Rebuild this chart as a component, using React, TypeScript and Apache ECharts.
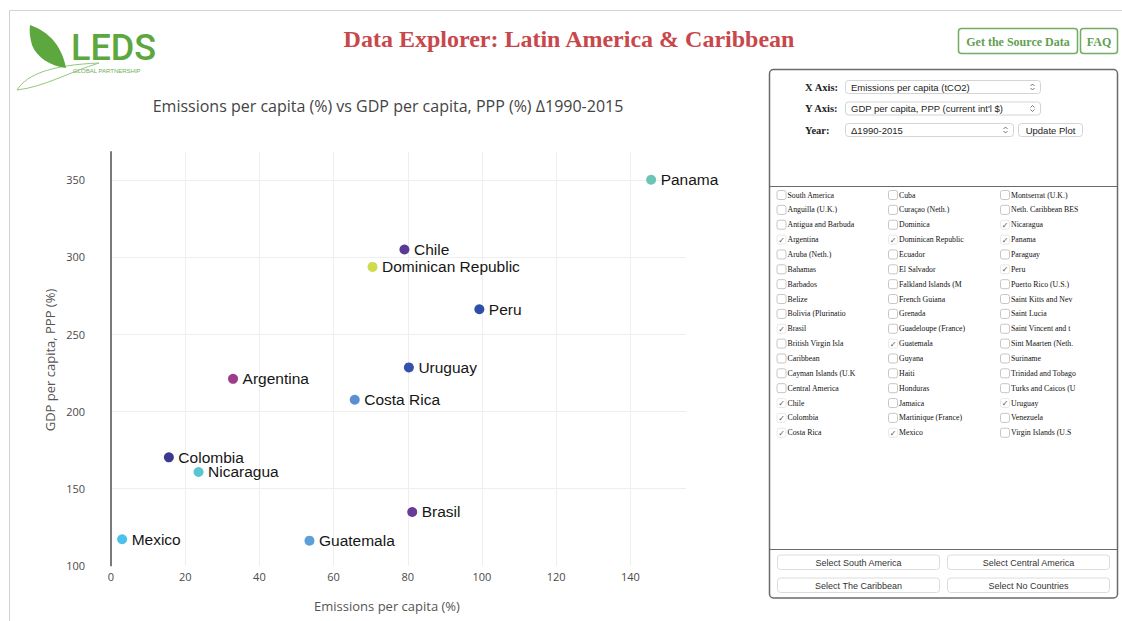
import React, { useEffect, useRef } from "react";
import * as echarts from "echarts";

// ---------- data ----------
const countries = ["Panama", "Chile", "Dominican Republic", "Peru", "Uruguay", "Argentina", "Costa Rica", "Colombia", "Nicaragua", "Brasil", "Mexico", "Guatemala"];
const emissionsChange = [145.6, 79.1, 70.5, 99.3, 80.3, 32.9, 65.7, 15.6, 23.6, 81.2, 3.0, 53.5];
const gdpChange = [350.0, 304.8, 293.5, 266.1, 228.4, 221.0, 207.4, 170.1, 160.6, 134.7, 117.0, 116.1];
const pointColors = ["#6cc4b6", "#5a3a96", "#cfdb4c", "#2f4ea8", "#3451ac", "#a03a8b", "#5a8fd3", "#3c3993", "#5cc6d0", "#6a3a97", "#4cc2ea", "#5c9fd9"];

const pageTitle = "Data Explorer: Latin America & Caribbean";
const chartTitle = "Emissions per capita (%) vs GDP per capita, PPP (%) \u03941990-2015";
const xAxisName = "Emissions per capita (%)";
const yAxisName = "GDP per capita, PPP (%)";

const col1 = ["South America", "Anguilla (U.K.)", "Antigua and Barbuda", "Argentina", "Aruba (Neth.)", "Bahamas", "Barbados", "Belize", "Bolivia (Plurinatio", "Brasil", "British Virgin Isla", "Caribbean", "Cayman Islands (U.K", "Central America", "Chile", "Colombia", "Costa Rica"];
const col2 = ["Cuba", "Cura\u00e7ao (Neth.)", "Dominica", "Dominican Republic", "Ecuador", "El Salvador", "Falkland Islands (M", "French Guiana", "Grenada", "Guadeloupe (France)", "Guatemala", "Guyana", "Haiti", "Honduras", "Jamaica", "Martinique (France)", "Mexico"];
const col3 = ["Montserrat (U.K.)", "Neth. Caribbean BES", "Nicaragua", "Panama", "Paraguay", "Peru", "Puerto Rico (U.S.)", "Saint Kitts and Nev", "Saint Lucia", "Saint Vincent and t", "Sint Maarten (Neth.", "Suriname", "Trinidad and Tobago", "Turks and Caicos (U", "Uruguay", "Venezuela", "Virgin Islands (U.S"];
const checkedList = ["Argentina", "Brasil", "Chile", "Colombia", "Costa Rica", "Dominican Republic", "Guatemala", "Mexico", "Nicaragua", "Panama", "Peru", "Uruguay"];

const selectRows = [
  { label: "X Axis:", value: "Emissions per capita (tCO2)" },
  { label: "Y Axis:", value: "GDP per capita, PPP (current int'l $)" },
  { label: "Year:", value: "\u03941990-2015" },
];
const bottomButtons = ["Select South America", "Select Central America", "Select The Caribbean", "Select No Countries"];

// ---------- shapes ----------
echarts.graphic.registerShape(
  "leafFilled",
  echarts.graphic.extendPath("M30 25 C 50 32, 62 47, 66 68 C 51 66, 37 58, 32 45 C 30 38, 29 31, 30 25 Z", {})
);
echarts.graphic.registerShape(
  "leafOutline",
  echarts.graphic.extendPath("M17 90 C 27 74, 52 65, 99 63 C 72 71, 44 87, 17 90 Z", {})
);

const SANS = "Liberation Sans";
const SERIF = "Liberation Serif";

function txt(x: number, y: number, text: string, opts: any = {}) {
  const { rotation, ...style } = opts;
  const el: any = {
    type: "text",
    x,
    y,
    silent: true,
    style: {
      text,
      fontFamily: SANS,
      fontSize: 12,
      fill: "#222",
      align: "left",
      verticalAlign: "middle",
      ...style,
    },
  };
  if (rotation !== undefined) el.rotation = rotation;
  return el;
}

function chevrons(cx: number, cy: number) {
  return [
    { type: "polyline", silent: true, shape: { points: [[cx - 2, cy - 1], [cx, cy - 3], [cx + 2, cy - 1]] }, style: { stroke: "#555", fill: "none", lineWidth: 0.8 } },
    { type: "polyline", silent: true, shape: { points: [[cx - 2, cy + 1], [cx, cy + 3], [cx + 2, cy + 1]] }, style: { stroke: "#555", fill: "none", lineWidth: 0.8 } },
  ];
}

function buildGraphics() {
  const g: any[] = [];
  // page frame
  g.push({ type: "rect", silent: true, shape: { x: 9.5, y: 10.5, width: 1300, height: 800 }, style: { fill: "none", stroke: "#d2d2d2", lineWidth: 1 } });
  // logo
  g.push({ type: "leafOutline", x: 0, y: 0, silent: true, style: { fill: "none", stroke: "#93c77f", lineWidth: 1 } });
  g.push({ type: "leafFilled", x: 0, y: 0, silent: true, style: { fill: "#5ca83f" } });
  g.push(txt(71, 48, "LEDS", { fontFamily: "Roboto", fontWeight: 500, fontSize: 36, fill: "#5ca83f" }));
  g.push(txt(73, 70.5, "GLOBAL PARTNERSHIP", { fontSize: 6, fill: "#6db055" }));
  // page title
  g.push(txt(569, 39, pageTitle, { fontFamily: SERIF, fontWeight: "bold", fontSize: 24, fill: "#c8474b", align: "center" }));
  // top-right buttons
  g.push({ type: "rect", silent: true, shape: { x: 958.5, y: 28.5, width: 119, height: 25, r: 3 }, style: { fill: "#fff", stroke: "#72ad62", lineWidth: 1.5 } });
  g.push(txt(1018, 41.5, "Get the Source Data", { fontFamily: SERIF, fontWeight: "bold", fontSize: 12, fill: "#5f9f52", align: "center" }));
  g.push({ type: "rect", silent: true, shape: { x: 1080.5, y: 28.5, width: 37, height: 25, r: 3 }, style: { fill: "#fff", stroke: "#72ad62", lineWidth: 1.5 } });
  g.push(txt(1099, 41.5, "FAQ", { fontFamily: SERIF, fontWeight: "bold", fontSize: 12, fill: "#5f9f52", align: "center" }));
  // chart title & axis names
  g.push(txt(388, 106, chartTitle, { fontFamily: "Open Sans", fontSize: 16, fill: "#444", align: "center" }));
  g.push(txt(387, 606, xAxisName, { fontFamily: "Open Sans", fontSize: 13, fill: "#555", align: "center" }));
  g.push(txt(50, 360, yAxisName, { fontFamily: "Open Sans", fontSize: 13, fill: "#555", align: "center", rotation: Math.PI / 2 }));

  // control panel
  g.push({ type: "rect", silent: true, shape: { x: 769.5, y: 69.5, width: 348, height: 528.5, r: 4 }, style: { fill: "#fff", stroke: "#6a6a6a", lineWidth: 1.5 } });
  g.push({ type: "line", silent: true, shape: { x1: 770, y1: 186.5, x2: 1117, y2: 186.5 }, style: { stroke: "#6a6a6a", lineWidth: 1.2 } });
  g.push({ type: "line", silent: true, shape: { x1: 770, y1: 549.5, x2: 1117, y2: 549.5 }, style: { stroke: "#6a6a6a", lineWidth: 1.2 } });

  const rowY = [87, 108.5, 130];
  selectRows.forEach((r, i) => {
    const y = rowY[i];
    g.push(txt(805, y, r.label, { fontFamily: SERIF, fontWeight: "bold", fontSize: 10.5, fill: "#222" }));
    const w = i === 2 ? 168 : 195;
    g.push({ type: "rect", silent: true, shape: { x: 845.5, y: y - 6.5, width: w, height: 13, r: 3 }, style: { fill: "#fff", stroke: "#d4d4d4", lineWidth: 1 } });
    g.push(txt(851, y, r.value, { fontSize: 9.5, fill: "#222" }));
    chevrons(845.5 + w - 8, y).forEach((c) => g.push(c));
  });
  g.push({ type: "rect", silent: true, shape: { x: 1018.5, y: 123.5, width: 64, height: 13, r: 3 }, style: { fill: "#fff", stroke: "#d4d4d4", lineWidth: 1 } });
  g.push(txt(1050.5, 130, "Update Plot", { fontSize: 9.5, fill: "#222", align: "center" }));

  // checkbox list
  const cols = [col1, col2, col3];
  const colX = [777, 888.5, 1000.5];
  cols.forEach((names, ci) => {
    names.forEach((name, ri) => {
      const y = 195 + ri * 14.86;
      const bx = colX[ci];
      const on = checkedList.indexOf(name) >= 0;
      g.push({ type: "rect", silent: true, shape: { x: bx, y: y - 4.5, width: 9, height: 9, r: 2 }, style: { fill: "#fff", stroke: on ? "#e2e2e2" : "#b8b8b8", lineWidth: 0.8 } });
      if (on) g.push(txt(bx + 4.5, y + 0.5, "\u2713", { fontFamily: "DejaVu Sans", fontSize: 8, fill: "#555", align: "center" }));
      g.push(txt(bx + 10.5, y, name, { fontFamily: SERIF, fontSize: 7.8, fill: "#111" }));
    });
  });

  // bottom buttons
  const bx = [777.5, 947.5];
  const bw = [162, 162];
  const by = [555, 578];
  bottomButtons.forEach((label, i) => {
    const c = i % 2;
    const r = Math.floor(i / 2);
    g.push({ type: "rect", silent: true, shape: { x: bx[c], y: by[r], width: bw[c], height: 14.5, r: 3 }, style: { fill: "#fff", stroke: "#dcdcdc", lineWidth: 1 } });
    g.push(txt(bx[c] + bw[c] / 2, by[r] + 7.5, label, { fontSize: 9, fill: "#333", align: "center" }));
  });
  return g;
}

export default function App() {
  const ref = useRef<HTMLDivElement>(null);
  useEffect(() => {
    if (!ref.current) return;
    const chart = echarts.init(ref.current, undefined, { renderer: "svg" });
    const data = countries.map((name, i) => ({
      name,
      value: [emissionsChange[i], gdpChange[i]],
      itemStyle: { color: pointColors[i], opacity: 1 },
    }));
    chart.setOption({
      animation: false,
      backgroundColor: "#ffffff",
      grid: { left: 111, top: 152, width: 575, height: 413.5, containLabel: false },
      xAxis: {
        type: "value",
        min: 0,
        max: 155,
        interval: 20,
        axisLine: { show: false },
        axisTick: { show: false },
        axisLabel: { color: "#4a4a4a", fontFamily: "Open Sans", fontSize: 11, margin: 5, showMaxLabel: false },
        splitLine: { show: true, lineStyle: { color: "#eeeeee", width: 1 }, showMaxLine: false },
      },
      yAxis: {
        type: "value",
        min: 100,
        max: 368,
        interval: 50,
        axisLine: { show: true, lineStyle: { color: "#7a7a7a", width: 2 } },
        axisTick: { show: false },
        axisLabel: { color: "#4a4a4a", fontFamily: "Open Sans", fontSize: 11, margin: 26, showMaxLabel: false },
        splitLine: { show: true, lineStyle: { color: "#eeeeee", width: 1 }, showMinLine: false, showMaxLine: false },
      },
      series: [
        {
          type: "scatter",
          symbol: "circle",
          symbolSize: 10,
          data,
          itemStyle: { opacity: 1 },
          label: {
            show: true,
            position: "right",
            distance: 4.5,
            formatter: "{b}",
            color: "#161616",
            fontFamily: SANS,
            fontSize: 15.5,
          },
          emphasis: { disabled: true },
          z: 5,
        },
      ],
      graphic: { elements: buildGraphics() },
    });
    return () => chart.dispose();
  }, []);
  return <div ref={ref} style={{ position: "absolute", left: 0, top: 0, width: 1122, height: 621 }} />;
}
